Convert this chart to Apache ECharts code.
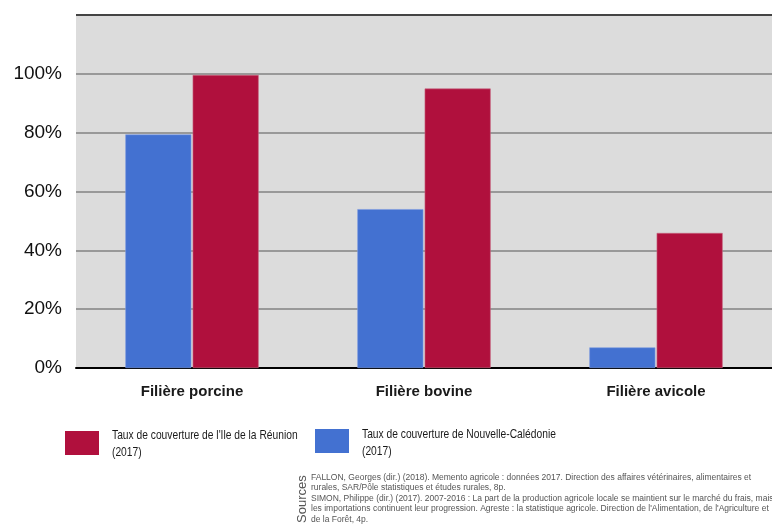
<!DOCTYPE html>
<html>
<head>
<meta charset="utf-8">
<script src="https://cdn.jsdelivr.net/npm/echarts@6/dist/echarts.min.js"></script>
<style>
  html, body { margin: 0; padding: 0; background: #fff; }
  #chart { width: 772px; height: 524px; }
</style>
</head>
<body>
<div id="chart"></div>
<script>
// données
const categories = ['Filière porcine', 'Filière bovine', 'Filière avicole'];
const nameNC = 'Taux de couverture de Nouvelle-Calédonie\n(2017)';
const nameRE = "Taux de couverture de l'Ile de la Réunion\n(2017)";
const valuesNC = [79.4, 54.0, 7.0];
const valuesRE = [99.6, 95.0, 45.9];
const yTicks = [0, 20, 40, 60, 80, 100, 120];

const sources = [
  'FALLON, Georges (dir.) (2018). Memento agricole : données 2017. Direction des affaires vétérinaires, alimentaires et',
  'rurales, SAR/Pôle statistiques et études rurales, 8p.',
  'SIMON, Philippe (dir.) (2017). 2007-2016 : La part de la production agricole locale se maintient sur le marché du frais, mais',
  "les importations continuent leur progression. Agreste : la statistique agricole. Direction de l'Alimentation, de l'Agriculture et",
  'de la Forêt, 4p.'
];

const SANS = '"Liberation Sans", Arial, sans-serif';
const BLUE = '#4371d1';
const RED = '#b0103d';

const chart = echarts.init(document.getElementById('chart'));

// légende : pavés de couleur via echarts, libellés condensés en graphic
function legendBox(name, left, top) {
  return {
    data: [name], left: left, top: top,
    itemWidth: 34, itemHeight: 24, itemGap: 0,
    icon: 'rect', itemStyle: { borderWidth: 0 },
    formatter: () => '', padding: 0, selectedMode: false
  };
}
function legendLabel(name, x, y) {
  return {
    type: 'text', x: x, y: y, scaleX: 0.76,
    style: {
      text: name, fontFamily: SANS, fontSize: 13.5, lineHeight: 17,
      fill: '#1a1a1a', textVerticalAlign: 'middle'
    }
  };
}

chart.setOption({
  animation: false,
  textStyle: { fontFamily: SANS },
  grid: {
    left: 76, top: 15, right: -3, bottom: 156,
    show: true, backgroundColor: '#dcdcdc', borderWidth: 0
  },
  legend: [legendBox(nameRE, 65, 431), legendBox(nameNC, 315, 429)],
  xAxis: {
    type: 'category',
    data: categories,
    axisTick: { show: false },
    axisLine: { lineStyle: { color: '#000', width: 2 } },
    axisLabel: { margin: 16, fontSize: 15, fontWeight: 'bold', color: '#1a1a1a', fontFamily: SANS }
  },
  yAxis: {
    type: 'value',
    min: 0, max: 120, interval: 20,
    axisLine: { show: false },
    axisTick: { show: false },
    axisLabel: {
      margin: 14, fontSize: 19, color: '#111', fontFamily: SANS,
      formatter: v => (v === yTicks[yTicks.length - 1] ? '' : v + '%')
    },
    splitLine: {
      lineStyle: {
        width: 2,
        color: ['#999', '#999', '#999', '#999', '#999', '#999', '#444']
      }
    }
  },
  series: [
    {
      name: nameNC, type: 'bar', data: valuesNC,
      barWidth: 66, barGap: '2%',
      itemStyle: { color: BLUE, borderColor: '#7f9ce0', borderWidth: 0.6 }
    },
    {
      name: nameRE, type: 'bar', data: valuesRE,
      barWidth: 66,
      itemStyle: { color: RED, borderColor: '#c8677f', borderWidth: 0.6 }
    }
  ],
  graphic: [
    legendLabel(nameRE, 112, 444),
    legendLabel(nameNC, 362, 443),
    {
      type: 'text', x: 296, y: 523, rotation: Math.PI / 2,
      style: { text: 'Sources', fontSize: 13, fill: '#555', fontFamily: SANS, textVerticalAlign: 'top' }
    },
    {
      type: 'text', left: 311, top: 472,
      style: {
        text: sources.join('\n'),
        fontSize: 8.5, lineHeight: 10.6, fill: '#555', fontFamily: SANS
      }
    }
  ]
});
</script>
</body>
</html>
